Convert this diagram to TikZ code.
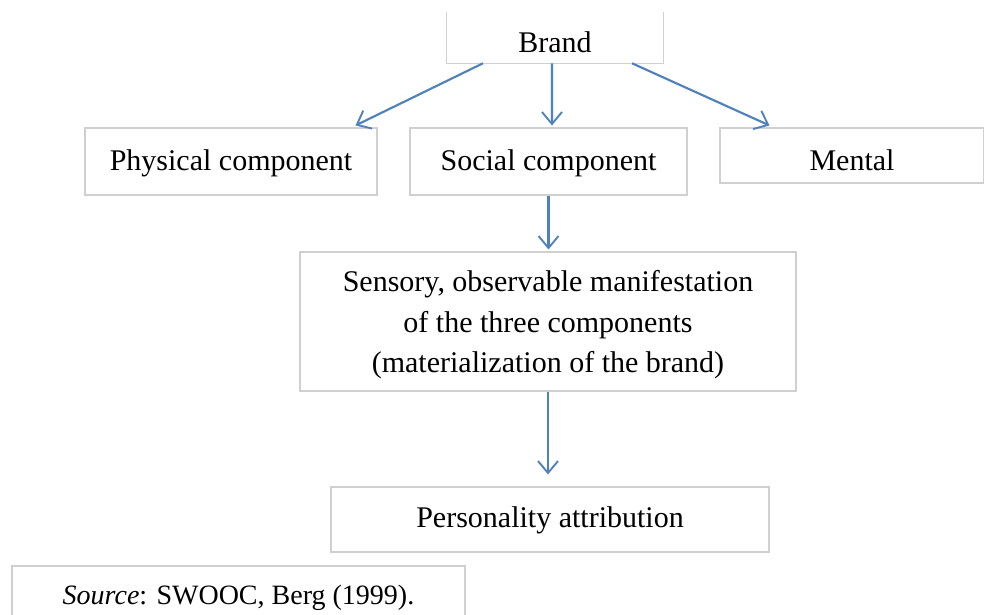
\documentclass[tikz,border=0pt]{standalone}
\usepackage{fontspec}
\setmainfont{Liberation Serif}
\usetikzlibrary{arrows.meta,calc}
\definecolor{boxline}{RGB}{208,208,208}
\definecolor{arrowblue}{RGB}{79,129,189}
\begin{document}
\begin{tikzpicture}[x=0.75pt,y=-0.75pt,
  txt/.style={font=\fontsize{22.5}{30.4}\selectfont,align=center,inner sep=0pt},
  box/.style={draw=boxline,line width=0.8pt,fill=white,inner sep=0pt},
  openbox/.style={inner sep=0pt},
  arr/.style={draw=arrowblue,line width=1.6pt,
    -{Straight Barb[length=9pt,width=15pt,line width=1.4pt]}}]
\useasboundingbox (0,0) rectangle (984,614);
\fill[white] (0,0) rectangle (984,614);

% boxes
\node[openbox,minimum width=162pt,minimum height=38.25pt] (brand) at (555,37.5) {};
\draw[boxline,line width=0.8pt] (brand.north west) -- (brand.south west)
  -- (brand.south east) -- (brand.north east);
\node[box,minimum width=219pt,minimum height=50.25pt] (phys) at (231,161.5) {};
\node[box,minimum width=207.75pt,minimum height=50.25pt] (social) at (548.5,161.5) {};
\node[box,minimum width=198pt,minimum height=41.25pt] (mental) at (852,155.5) {};
\node[box,minimum width=372pt,minimum height=104.25pt] (sensory) at (548,321.5) {};
\node[box,minimum width=328.5pt,minimum height=48.75pt] (pers) at (550,519.5) {};
\node[box,minimum width=339.75pt,minimum height=45pt] (source) at (238.5,596) {};

% texts
\node[txt] (brandtxt) at ([yshift=-3.6pt]brand.center) {Brand};
\node[txt] (physt) at ([yshift=-1pt]phys.center) {Physical component};
\node[txt] (socialt) at ([yshift=-1pt]social.center) {Social component};
\node[txt] (mentalt) at ([yshift=-3.6pt]mental.center) {Mental};
\node[txt] (sensoryt) at ([yshift=-2.4pt]sensory.center)
  {Sensory, observable manifestation\\of the three components\\(materialization of the brand)};
\node[txt] (perst) at ([yshift=-0.6pt]pers.center) {Personality attribution};
\node[txt,font=\fontsize{21}{25}\selectfont] (sourcet) at ([yshift=-1.5pt]source.center)
  {\textit{Source}: SWOOC, Berg (1999).};

% connectors
\draw[arr] ([xshift=-54pt]brand.south) -- ([xshift=-16.5pt,yshift=1.5pt]phys.north east);
\draw[arr] ([xshift=-2.25pt]brand.south) -- ([xshift=2.6pt,yshift=1.5pt]social.north);
\draw[arr] ([xshift=57.75pt]brand.south) -- ([xshift=37.5pt,yshift=1.5pt]mental.north west);
\draw[arr] (social.south) -- ([yshift=1.5pt]social.south |- sensory.north);
\draw[arr] (sensory.south) -- ([yshift=9pt]sensory.south |- pers.north);
\end{tikzpicture}
\end{document}
